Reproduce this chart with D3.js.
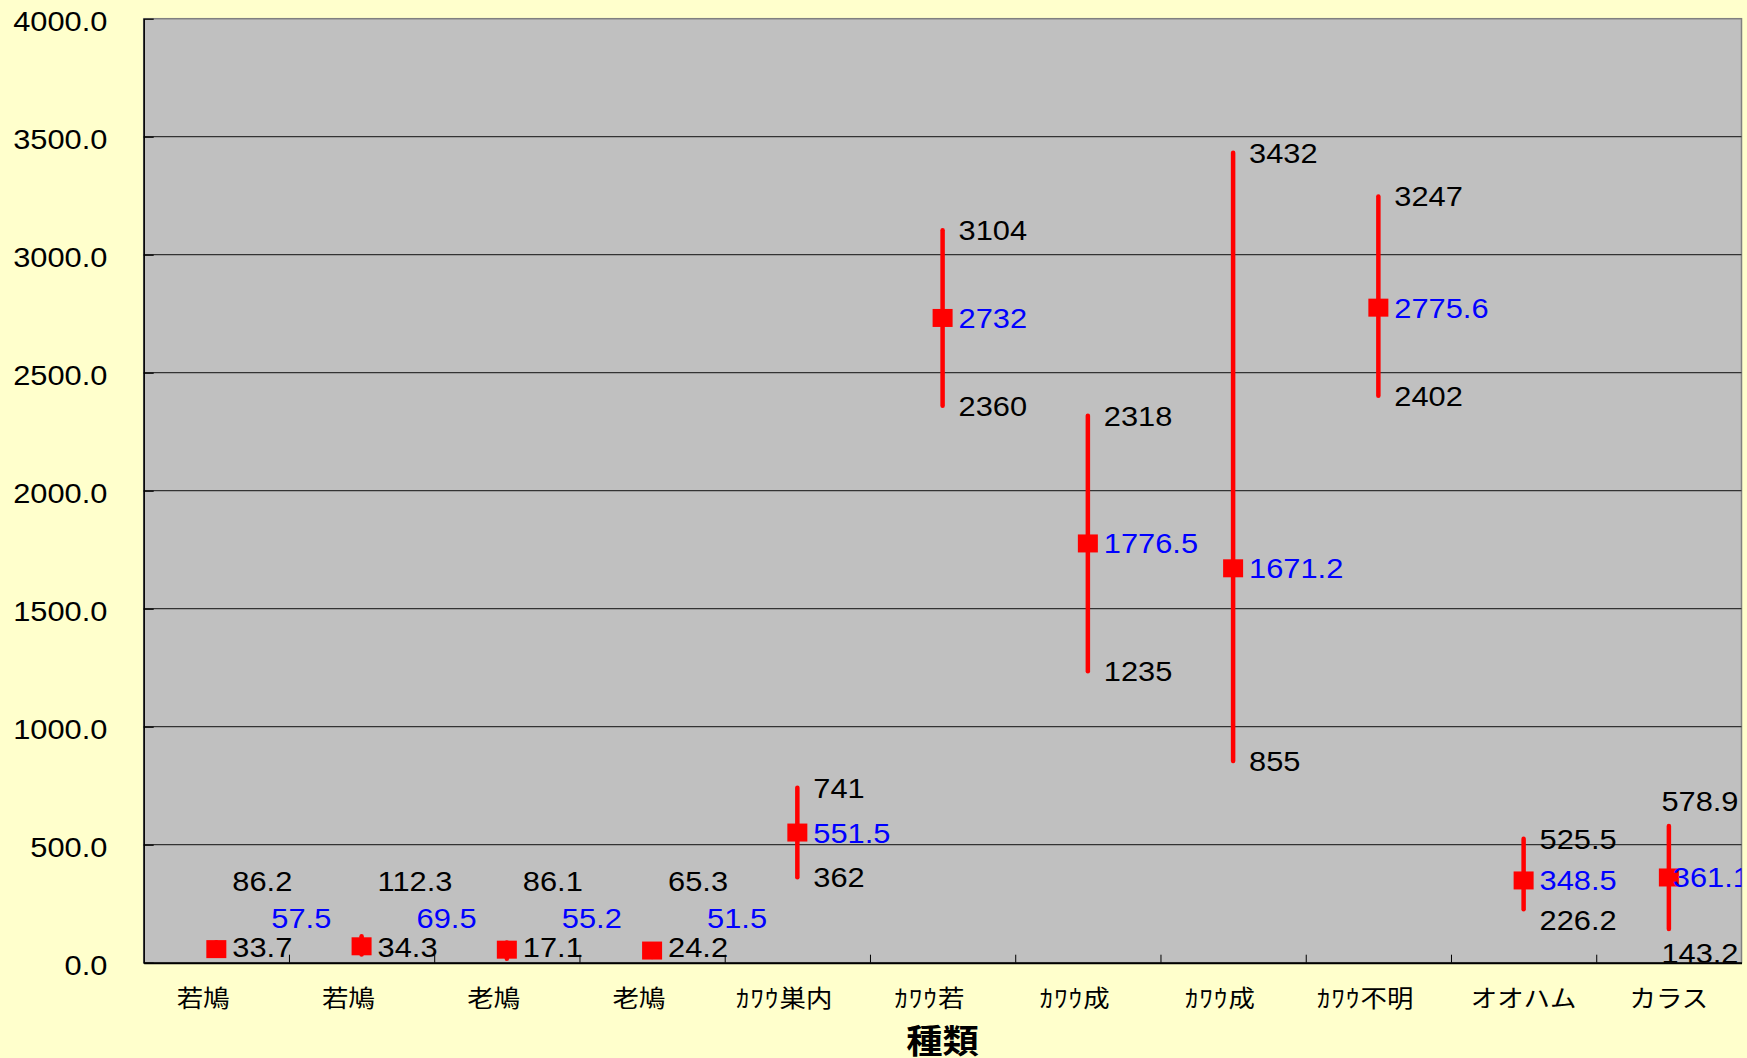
<!DOCTYPE html>
<html>
<head>
<meta charset="utf-8">
<script src="https://cdn.jsdelivr.net/npm/d3@7"></script>
<style>
  html, body { margin: 0; padding: 0; background: #ffffcc; }
  svg { display: block; }
</style>
</head>
<body>
<div id="chart"></div>
<script>
// values (labels keep the trailing full-width space of the sheet)
const categories = ["若鳩　", "若鳩　", "老鳩　", "老鳩　", "ｶﾜｳ巣内　", "ｶﾜｳ若　", "ｶﾜｳ成　", "ｶﾜｳ成　", "ｶﾜｳ不明　", "オオハム", "カラス"];
const upperValues = [86.2, 112.3, 86.1, 65.3, 741, 3104, 2318, 3432, 3247, 525.5, 578.9];
const meanValues = [57.5, 69.5, 55.2, 51.5, 551.5, 2732, 1776.5, 1671.2, 2775.6, 348.5, 361.1];
const lowerValues = [33.7, 34.3, 17.1, 24.2, 362, 2360, 1235, 855, 2402, 226.2, 143.2];
const yTicks = [0, 500, 1000, 1500, 2000, 2500, 3000, 3500, 4000];
const xTitle = "種類";

const width = 1747, height = 1058;
const plot = { left: 143.7, top: 18.7, right: 1741.5, bottom: 962.7 };
const SX = 1.1; // text in the original is a bit wide
const numFont = "'Liberation Sans', Arial, sans-serif";
const jpFont = "'Noto Sans CJK JP', sans-serif";

const svg = d3.select('#chart').append('svg')
  .attr('width', width)
  .attr('height', height)
  .style('background', '#ffffcc');

const y = d3.scaleLinear().domain([0, 4000]).range([plot.bottom, plot.top]);
const x = d3.scaleBand().domain(d3.range(categories.length)).range([plot.left, plot.right]).padding(0);
const xEdge = d3.scaleLinear().domain([0, categories.length]).range([plot.left, plot.right]);

svg.append('defs').append('clipPath').attr('id', 'plotClip')
  .append('rect')
  .attr('x', plot.left).attr('y', plot.top)
  .attr('width', plot.right - plot.left).attr('height', plot.bottom - plot.top);

// plot background + border
svg.append('rect')
  .attr('x', plot.left).attr('y', plot.top)
  .attr('width', plot.right - plot.left).attr('height', plot.bottom - plot.top)
  .attr('fill', '#c0c0c0')
  .attr('stroke', '#808080')
  .attr('stroke-width', 1.5);

// gridlines
svg.append('g').selectAll('line')
  .data(yTicks.filter(d => d > 0 && d < 4000))
  .join('line')
  .attr('x1', plot.left).attr('x2', plot.right)
  .attr('y1', d => y(d)).attr('y2', d => y(d))
  .attr('stroke', '#333')
  .attr('stroke-width', 1.2);

// y axis
const yAxis = svg.append('g')
  .attr('transform', `translate(${plot.left},0)`)
  .call(d3.axisLeft(y).tickValues(yTicks).tickFormat(d3.format('.1f')).tickSize(-10).tickPadding(33).tickSizeOuter(0));
yAxis.select('.domain').attr('stroke', '#000').attr('stroke-width', 1.5);
yAxis.selectAll('.tick line').attr('stroke', '#000').attr('stroke-width', 1.2);
yAxis.selectAll('.tick text')
  .attr('font-family', numFont)
  .attr('font-size', 28)
  .attr('fill', '#000')
  .attr('dy', '0.42em')
  .attr('transform', `scale(${SX},1)`);

// bottom ticks at category borders
const xTickAxis = svg.append('g')
  .attr('transform', `translate(0,${plot.bottom})`)
  .call(d3.axisBottom(xEdge).tickValues(d3.range(1, categories.length)).tickSize(-8).tickFormat('').tickSizeOuter(0));
xTickAxis.select('.domain').attr('stroke', '#000').attr('stroke-width', 2);
xTickAxis.selectAll('.tick line').attr('stroke', '#000').attr('stroke-width', 1);

// category labels
const xAxis = svg.append('g')
  .attr('transform', `translate(0,${plot.bottom})`)
  .call(d3.axisBottom(x).tickSize(0).tickPadding(27).tickFormat(''));
xAxis.select('.domain').remove();
xAxis.selectAll('.tick text')
  .attr('font-family', jpFont)
  .attr('font-size', 24)
  .attr('fill', '#000')
  .attr('transform', `scale(${SX},1)`)
  .attr('x', 0)
  .each(function (i) {
    // half-width kana runs get a touch of spacing, like the sheet's font
    const t = d3.select(this);
    const parts = categories[i].match(/[\uFF61-\uFF9F]+|[^\uFF61-\uFF9F]+/g);
    parts.forEach(p => {
      const ts = t.append('tspan').text(p);
      if (/[\uFF61-\uFF9F]/.test(p)) ts.attr('letter-spacing', 1.2);
    });
  });

// axis title
svg.append('text')
  .attr('transform', `translate(${(plot.left + plot.right) / 2},1039) scale(${SX},1)`)
  .attr('text-anchor', 'middle')
  .attr('dominant-baseline', 'central')
  .attr('font-family', jpFont)
  .attr('font-size', 33)
  .attr('font-weight', 'bold')
  .text(xTitle);

// range lines and mean markers
const marks = svg.append('g');
const rows = categories.map((c, i) => ({ i, up: upperValues[i], mean: meanValues[i], low: lowerValues[i] }));
const cx = d => x(d.i) + x.bandwidth() / 2;

marks.selectAll('line.range')
  .data(rows)
  .join('line')
  .attr('class', 'range')
  .attr('x1', cx).attr('x2', cx)
  .attr('y1', d => y(d.up)).attr('y2', d => y(d.low))
  .attr('stroke', '#ff0000')
  .attr('stroke-width', 4.5)
  .attr('stroke-linecap', 'round');

marks.selectAll('rect.mean')
  .data(rows)
  .join('rect')
  .attr('class', 'mean')
  .attr('x', d => cx(d) - 10)
  .attr('y', d => y(d.mean) - 9)
  .attr('width', 20)
  .attr('height', 18)
  .attr('fill', '#ff0000');

// data labels
const labels = svg.append('g').attr('clip-path', 'url(#plotClip)');

function makeLabel(txt, color) {
  const t = labels.append('text')
    .attr('dominant-baseline', 'central')
    .attr('font-family', numFont)
    .attr('font-size', 28)
    .attr('fill', color)
    .text(txt);
  return { t, w: t.node().getComputedTextLength() * SX };
}
function place(l, lx, ly) {
  l.t.attr('transform', `translate(${lx},${ly}) scale(${SX},1)`);
}

const gap = 40;
rows.forEach(d => {
  const px = cx(d);
  let yu = y(d.up), ym = y(d.mean), yl = y(d.low);
  let meanDx = 16;
  const lu = makeLabel(String(d.up), '#000');
  const lm = makeLabel(String(d.mean), '#0000ff');
  const ll = makeLabel(String(d.low), '#000');
  let xu = px + 16, xl = px + 16;

  if (yl - yu < 40) {
    // range too short to read: stack labels above the axis
    yl = Math.min(yl, plot.bottom - 16);
    ym = yl - 29;
    yu = yl - 66;
    meanDx = 55;
  } else if (px + 16 + lu.w > plot.right - 3) {
    // no room on the right: labels slide over the line, past its ends
    xu = plot.right - 3 - lu.w;
    xl = plot.right - 3 - ll.w;
    yu -= 25;
    yl += 24;
    meanDx = 4;
  } else {
    if (ym - yu < gap) yu = ym - gap;
    if (yl - ym < gap) yl = ym + gap;
  }
  place(lu, xu, yu);
  place(lm, px + meanDx, ym);
  place(ll, xl, yl);
});
</script>
</body>
</html>
